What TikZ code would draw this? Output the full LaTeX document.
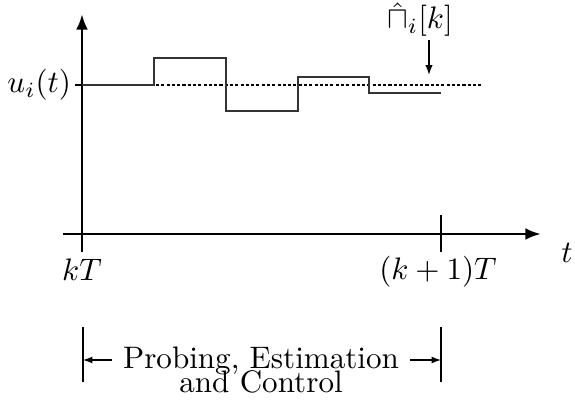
\documentclass[tikz,border=0pt]{standalone}
\usetikzlibrary{arrows.meta}
\begin{document}
\begin{tikzpicture}[
    x=0.0113cm, y=-0.0113cm,
    axis/.style={line width=0.9pt, -{Latex[length=5pt,width=3.8pt]}},
    signal/.style={line width=0.5pt, black!80},
    refline/.style={line width=0.6pt, dash pattern=on 1pt off 0.7pt},
    tick/.style={line width=0.4pt},
    pointer/.style={line width=0.5pt, -{Latex[length=3.2pt,width=2.4pt]}},
    dimline/.style={line width=0.4pt, -{Latex[length=3pt,width=2.2pt]}},
]
\useasboundingbox (0,0) rectangle (575,401);

% axes
\coordinate (xstart) at (63,234);
\coordinate (xend) at (541,234);
\coordinate (ybot) at (82,252);
\coordinate (ytop) at (82,14);
\draw[axis] (xstart) -- (xend);
\draw[axis] (ybot) -- (ytop);
\draw[line width=0.9pt] (75,85) -- (90,85);
\draw[tick] (441,215) -- (441,252);

% reference level and control signal
\draw[refline] (82,85) -- (482,85);
\draw[signal] (82,85) -- (154,85) -- (154,58) -- (226,58) -- (226,111)
    -- (298,111) -- (298,77) -- (369,77) -- (369,93) -- (441,93);

% labels
\node[anchor=east] (ulabel) at (82,85) {$u_i(t)$};
\node[inner sep=1pt] (pilabel) at (420,20) {$\hat{\sqcap}_i[k]$};
\coordinate (pitip) at (429,75);
\draw[pointer] (pilabel.south -| pitip) -- (pitip);
\node (kT) at (82,270) {$kT$};
\node (k1T) at (438,272) {$(k+1)T$};
\node (tlabel) at (567,253) {$t$};

% interval
\coordinate (L) at (83,360);
\coordinate (R) at (441,360);
\draw[tick] (83,327) -- (83,382);
\draw[tick] (441,327) -- (441,382);
\node[align=center] (phase) at (261,370) {Probing, Estimation\\[-4.5pt]and Control};
\draw[dimline] (phase.west |- L) -- (L);
\draw[dimline] (phase.east |- R) -- (R);
\end{tikzpicture}
\end{document}
